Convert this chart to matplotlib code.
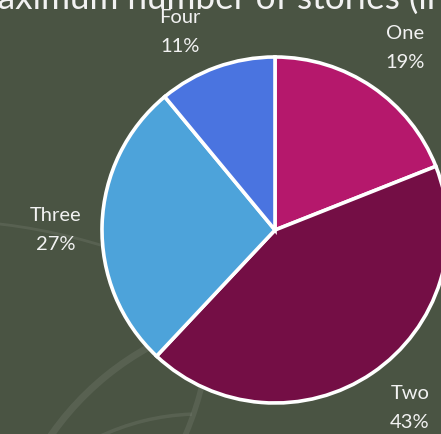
import matplotlib
matplotlib.use("Agg")
import matplotlib.pyplot as plt
from matplotlib.patches import Arc

categories = ["One", "Two", "Three", "Four"]
values = [19, 43, 27, 11]
colors = ["#B5186C", "#740E45", "#4DA3DA", "#4A74E0"]
title_first = "Maximum "
title_rest = "number of stories (in buildings)"

W, H = 441, 435
BG = "#4A5443"
FONT = "Lato"
fig = plt.figure(figsize=(W / 100, H / 100), dpi=100)
fig.patch.set_facecolor(BG)
ax = fig.add_axes([0, 0, 1, 1])
ax.set_facecolor(BG)

# faint decorative swirls in the background (center, diameter, angles, width)
swirls = [((-68, -365), 1158, 62, 90, 2.0),
          ((289, -167), 580, 108, 150, 5.0),
          ((200, -215), 470, 92, 116, 2.5),
          ((-90, 118), 600, -26, -4, 4.0)]
for (c, d, t1, t2, lw) in swirls:
    ax.add_patch(Arc(c, d, d, theta1=t1, theta2=t2,
                     color="white", alpha=0.08, lw=lw, zorder=0))

labels = [f"{c}\n{v}%" for c, v in zip(categories, values)]
wedges, texts = ax.pie(values, labels=labels, colors=colors, startangle=90,
                       counterclock=False, center=(275, 204), radius=173,
                       labeldistance=1.29, frame=True,
                       wedgeprops=dict(edgecolor="white", linewidth=2.6),
                       textprops=dict(color="#F2F2F2", fontsize=14.5,
                                      family=FONT, linespacing=1.86))
# label centres in pixel space (from top-left)
label_pos = [(405, 48), (410, 408), (56, 230), (180, 32)]
for t, (px, py) in zip(texts, label_pos):
    t.set_position((px, H - py))
    t.set_ha("center")
    t.set_va("center")
    t.set_multialignment("center")

ax.set_xlim(0, W)
ax.set_ylim(0, H)
ax.set_aspect("equal")
ax.axis("off")

# title: size/position so "number" starts at x~127 and "stories" at x~297
fig.canvas.draw()
r = fig.canvas.get_renderer()


def width(s, size):
    t = ax.text(0, 0, s + "|", fontsize=size, family=FONT)
    b = ax.text(0, 0, "|", fontsize=size, family=FONT)
    w = t.get_window_extent(r).width - b.get_window_extent(r).width
    t.remove()
    b.remove()
    return w


s0 = 20.0
w_mid = width("number of ", s0)
tsize = s0 * 170.0 / w_mid
w_first = width(title_first, tsize)
x0 = 127 - w_first
ax.text(x0, H - 9, title_first + title_rest, color="#F2F2F2", fontsize=tsize,
        family=FONT, ha="left", va="baseline", clip_on=False)

fig.savefig("out.png", dpi=100, facecolor=fig.get_facecolor())
